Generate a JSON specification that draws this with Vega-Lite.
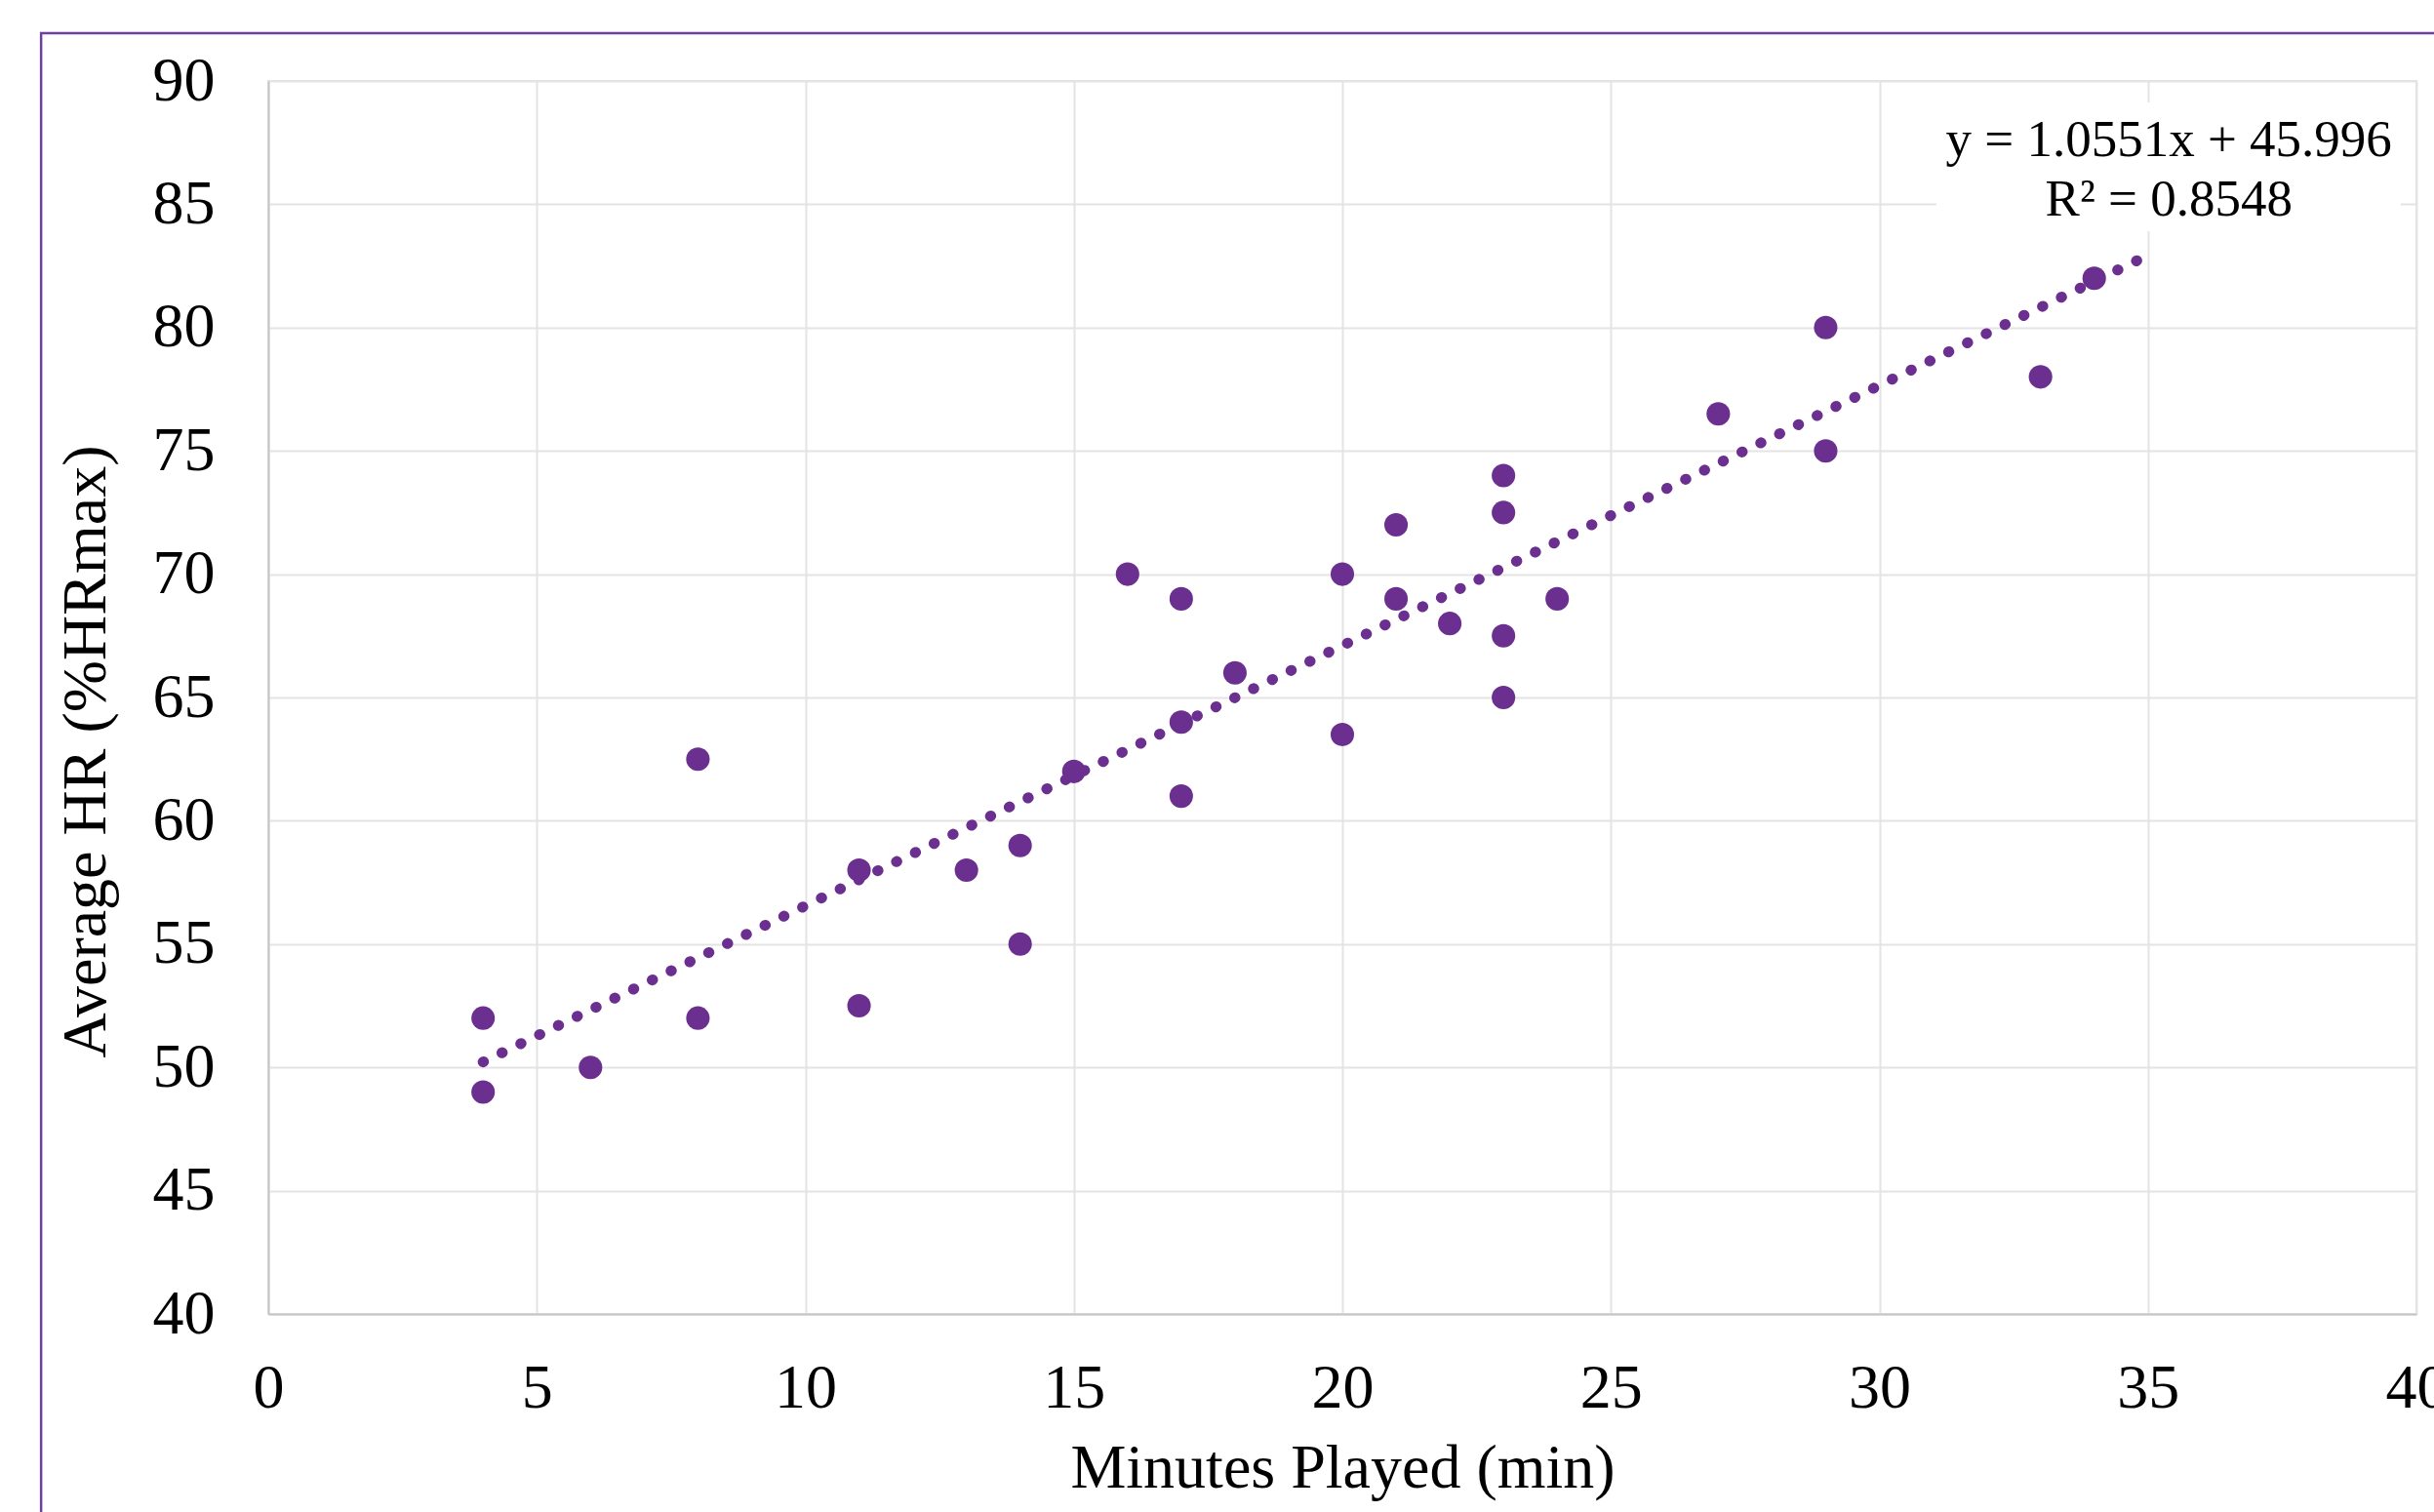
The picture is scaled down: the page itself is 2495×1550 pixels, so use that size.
{
  "$schema": "https://vega.github.io/schema/vega-lite/v6.json",
  "width": 2202,
  "height": 1264,
  "autosize": "none",
  "padding": {"left": 275, "top": 83, "right": 18, "bottom": 203},
  "background": "white",
  "config": {
    "view": {"stroke": "#e2e2e2", "strokeWidth": 2},
    "axis": {
      "grid": true,
      "gridColor": "#e4e4e4",
      "gridWidth": 2,
      "ticks": false,
      "domainColor": "#c6c6c6",
      "domainWidth": 2,
      "labelFont": "Liberation Serif",
      "labelFontSize": 64,
      "labelColor": "black",
      "labelOverlap": false,
      "labelFlush": false,
      "titleFont": "Liberation Serif",
      "titleFontSize": 64,
      "titleFontWeight": "normal",
      "titleColor": "black"
    }
  },
  "datasets": {
    "points": [
      {"minutes": 4, "hr": 52}, {"minutes": 4, "hr": 49}, {"minutes": 6, "hr": 50},
      {"minutes": 8, "hr": 62.5}, {"minutes": 8, "hr": 52}, {"minutes": 11, "hr": 58},
      {"minutes": 11, "hr": 52.5}, {"minutes": 13, "hr": 58}, {"minutes": 14, "hr": 59},
      {"minutes": 14, "hr": 55}, {"minutes": 15, "hr": 62}, {"minutes": 16, "hr": 70},
      {"minutes": 17, "hr": 69}, {"minutes": 17, "hr": 64}, {"minutes": 17, "hr": 61},
      {"minutes": 18, "hr": 66}, {"minutes": 20, "hr": 70}, {"minutes": 20, "hr": 63.5},
      {"minutes": 21, "hr": 72}, {"minutes": 21, "hr": 69}, {"minutes": 22, "hr": 68},
      {"minutes": 23, "hr": 74}, {"minutes": 23, "hr": 72.5}, {"minutes": 23, "hr": 67.5},
      {"minutes": 23, "hr": 65}, {"minutes": 24, "hr": 69}, {"minutes": 27, "hr": 76.5},
      {"minutes": 29, "hr": 80}, {"minutes": 29, "hr": 75}, {"minutes": 33, "hr": 78},
      {"minutes": 34, "hr": 82}
    ],
    "trend": [
      {"minutes": 4, "hr": 50.22},
      {"minutes": 35, "hr": 82.93}
    ],
    "note": [
      {"line1": "y = 1.0551x + 45.996", "line2": "R² = 0.8548"}
    ]
  },
  "layer": [
    {
      "data": {"name": "note"},
      "mark": {"type": "rect", "fill": null, "stroke": "#7040A0", "strokeWidth": 2.5, "clip": false},
      "encoding": {
        "x": {"datum": -4.23}, "x2": {"datum": 42},
        "y": {"datum": 91.94}, "y2": {"datum": 30}
      }
    },
    {
      "data": {"name": "points"},
      "mark": {"type": "circle", "size": 580, "color": "#6B2F8F", "opacity": 1},
      "encoding": {
        "x": {
          "field": "minutes", "type": "quantitative",
          "scale": {"domain": [0, 40], "nice": false, "zero": false},
          "axis": {
            "values": [0, 5, 10, 15, 20, 25, 30, 35, 40],
            "labelPadding": 44,
            "title": "Minutes Played (min)",
            "titlePadding": 18
          }
        },
        "y": {
          "field": "hr", "type": "quantitative",
          "scale": {"domain": [40, 90], "nice": false, "zero": false},
          "axis": {
            "values": [40, 45, 50, 55, 60, 65, 70, 75, 80, 85, 90],
            "labelPadding": 55,
            "title": "Average HR (%HRmax)",
            "titlePadding": 36,
            "titleY": 687
          }
        }
      }
    },
    {
      "data": {"name": "trend"},
      "mark": {"type": "line", "color": "#6B2F8F", "strokeWidth": 11, "strokeCap": "round", "strokeDash": [0.5, 20.9]},
      "encoding": {
        "x": {"field": "minutes", "type": "quantitative"},
        "y": {"field": "hr", "type": "quantitative"}
      }
    },
    {
      "data": {"name": "note"},
      "mark": {"type": "rect", "fill": "white"},
      "encoding": {
        "x": {"datum": 31.06}, "x2": {"datum": 39.71},
        "y": {"datum": 89.13}, "y2": {"datum": 83.91}
      }
    },
    {
      "data": {"name": "note"},
      "transform": [{"calculate": "[datum.line1, datum.line2]", "as": "label"}],
      "mark": {"type": "text", "font": "Liberation Serif", "fontSize": 53, "lineHeight": 61, "align": "center", "baseline": "middle", "color": "black"},
      "encoding": {
        "x": {"datum": 35.39},
        "y": {"datum": 87.57},
        "text": {"field": "label"}
      }
    }
  ]
}
